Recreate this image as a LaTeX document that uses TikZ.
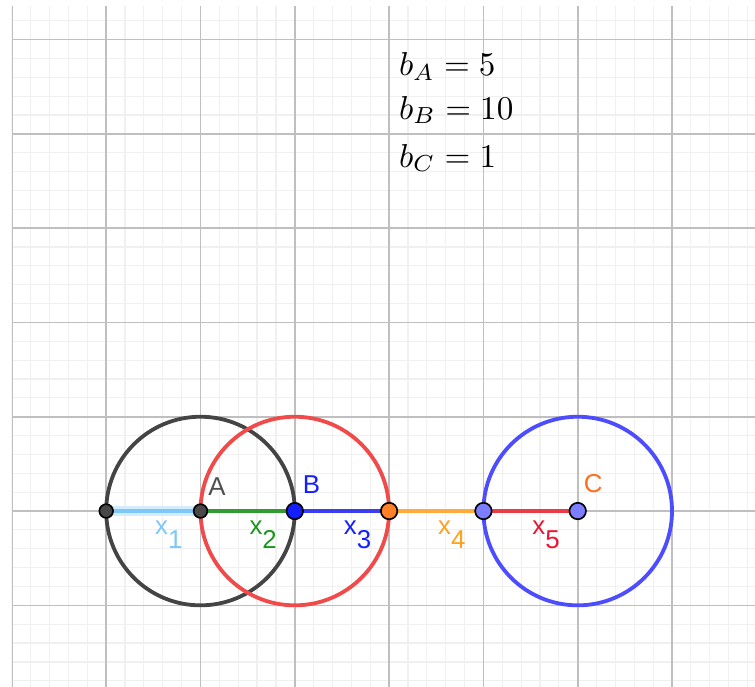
\documentclass[tikz,border=0pt]{standalone}
\usepackage{fontspec}
\newfontfamily\lblfont{Liberation Sans}
\usetikzlibrary{positioning}

\definecolor{circblack}{RGB}{68,68,68}
\definecolor{circred}{RGB}{240,74,74}
\definecolor{circblue}{RGB}{77,77,255}
\definecolor{ptgray}{RGB}{72,72,72}
\definecolor{ptblue}{RGB}{20,30,255}
\definecolor{ptorange}{RGB}{255,128,38}
\definecolor{ptlav}{RGB}{125,125,255}
\definecolor{segone}{RGB}{126,200,248}
\definecolor{segglow}{RGB}{212,237,252}
\definecolor{segtwo}{RGB}{50,155,50}
\definecolor{segthree}{RGB}{60,60,240}
\definecolor{segfour}{RGB}{255,170,60}
\definecolor{segfive}{RGB}{235,60,70}
\definecolor{labA}{RGB}{80,80,80}
\definecolor{labC}{RGB}{255,110,30}
\definecolor{labtwo}{RGB}{30,150,30}
\definecolor{labfour}{RGB}{255,160,30}
\definecolor{labfive}{RGB}{235,20,50}

\begin{document}
\begin{tikzpicture}[
        minorgrid/.style={draw=gray!12, line width=0.35pt},
        majorgrid/.style={draw=gray!50, line width=0.5pt},
        circ/.style={line width=1.15pt},
        seg/.style={line width=1.15pt},
        smallpt/.style={circle, draw=black, line width=0.5pt, fill=ptgray, inner sep=0pt, minimum size=0.145cm},
        bigpt/.style={circle, draw=black, line width=0.5pt, inner sep=0pt, minimum size=0.175cm},
        ptlabel/.style={font=\lblfont\fontsize{7.8}{9}\selectfont, inner sep=0pt},
        seglabel/.style={ptlabel, anchor=base west, yshift=-0.254cm},
        weight/.style={anchor=base west, inner sep=0pt, font=\fontsize{9.6}{11}\selectfont}
    ]

    \useasboundingbox (-2.126,-1.856) rectangle (5.880,5.419);

    % Grid
    \begin{scope}
        \clip (-2,-1.856) rectangle (5.880,5.355);
        \draw[minorgrid, step=0.2] (-2,-2) grid (6,5.4);
        \draw[majorgrid, step=1] (-2,-2) grid (6,5.4);
    \end{scope}

    % Positions on the line
    \coordinate (L) at (-1,0);
    \coordinate (A) at (0,0);
    \coordinate (B) at (1,0);
    \coordinate (O) at (2,0);
    \coordinate (P) at (3,0);
    \coordinate (C) at (4,0);

    % Circles
    \draw[circ, circblack] (A) circle[radius=1];
    \draw[circ, circred] (B) circle[radius=1];
    \draw[circ, circblue] (C) circle[radius=1];

    % Segments x1 ... x5
    \draw[segglow, line width=3pt] (L) -- (A);
    \draw[seg, segone] (L) -- (A) node[midway, seglabel, text=segone] (lx1) {x\raisebox{-4pt}{1}};
    \draw[seg, segtwo] (A) -- (B) node[midway, seglabel, text=labtwo] (lx2) {x\raisebox{-4pt}{2}};
    \draw[seg, segthree] (B) -- (O) node[midway, seglabel, text=ptblue] (lx3) {x\raisebox{-4pt}{3}};
    \draw[seg, segfour] (O) -- (P) node[midway, seglabel, text=labfour] (lx4) {x\raisebox{-4pt}{4}};
    \draw[seg, segfive] (P) -- (C) node[midway, seglabel, text=labfive] (lx5) {x\raisebox{-4pt}{5}};

    % Points
    \node[smallpt] (ptL) at (L) {};
    \node[smallpt] (ptA) at (A) {};
    \node[bigpt, fill=ptblue] (ptB) at (B) {};
    \node[bigpt, fill=ptorange] (ptO) at (O) {};
    \node[bigpt, fill=ptlav] (ptP) at (P) {};
    \node[bigpt, fill=ptlav] (ptC) at (C) {};

    % Point labels
    \node[ptlabel, text=labA] (nameA) at (0.175,0.26) {A};
    \node[ptlabel, text=ptblue] (nameB) at (1.177,0.283) {B};
    \node[ptlabel, text=labC] (nameC) at (4.165,0.286) {C};

    % Weights
    \node[weight] (wA) at (2.098,4.623) {$b_A=5$};
    \node[weight] (wB) at (2.098,4.157) {$b_B=10$};
    \node[weight] (wC) at (2.098,3.648) {$b_C=1$};

\end{tikzpicture}
\end{document}
